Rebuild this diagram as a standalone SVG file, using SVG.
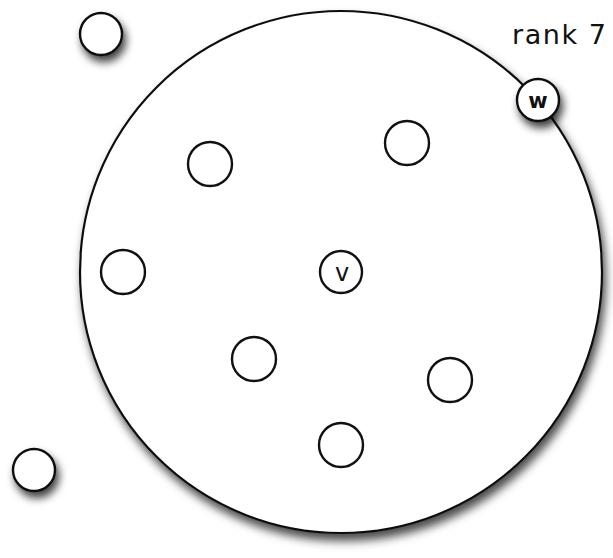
<svg xmlns="http://www.w3.org/2000/svg" width="613" height="558" viewBox="0 0 613 558">
<defs>
<filter id="sh" x="-40%" y="-40%" width="190%" height="190%">
<feDropShadow dx="3" dy="6" stdDeviation="4.5" flood-color="#000" flood-opacity="0.75"/>
</filter>
<filter id="shb" x="-10%" y="-10%" width="125%" height="125%">
<feDropShadow dx="3" dy="7" stdDeviation="5" flood-color="#000" flood-opacity="0.7"/>
</filter>
<style>
.n{fill:#fff;stroke:#111;stroke-width:2.4}
.big{fill:#fff;stroke:#111;stroke-width:2.2}
.lbl{font-family:"DejaVu Sans","Liberation Sans",sans-serif;fill:#111;text-anchor:middle}
</style>
</defs>
<rect width="613" height="558" fill="#fff"/>
<g id="rank7">
<circle class="big" cx="341" cy="272" r="261" filter="url(#shb)"/>
<text class="lbl" x="559" y="44" font-size="27" textLength="94" lengthAdjust="spacing">rank 7</text>
</g>
<g id="out1"><circle class="n" cx="101" cy="34" r="21" filter="url(#sh)"/></g>
<g id="out2"><circle class="n" cx="34" cy="470" r="21" filter="url(#sh)"/></g>
<g id="w"><circle class="n" cx="538" cy="100" r="21" filter="url(#sh)"/><text class="lbl" x="538" y="108" font-size="21" font-weight="bold">w</text></g>
<g id="n1"><circle class="n" cx="407" cy="143" r="22"/></g>
<g id="n2"><circle class="n" cx="210" cy="164" r="22"/></g>
<g id="n3"><circle class="n" cx="123" cy="272" r="22"/></g>
<g id="v"><circle class="n" cx="341" cy="272" r="21"/><text class="lbl" x="342" y="281" font-size="24">v</text></g>
<g id="n4"><circle class="n" cx="254" cy="359" r="22"/></g>
<g id="n5"><circle class="n" cx="450" cy="380" r="22"/></g>
<g id="n6"><circle class="n" cx="341" cy="445" r="22"/></g>
</svg>
